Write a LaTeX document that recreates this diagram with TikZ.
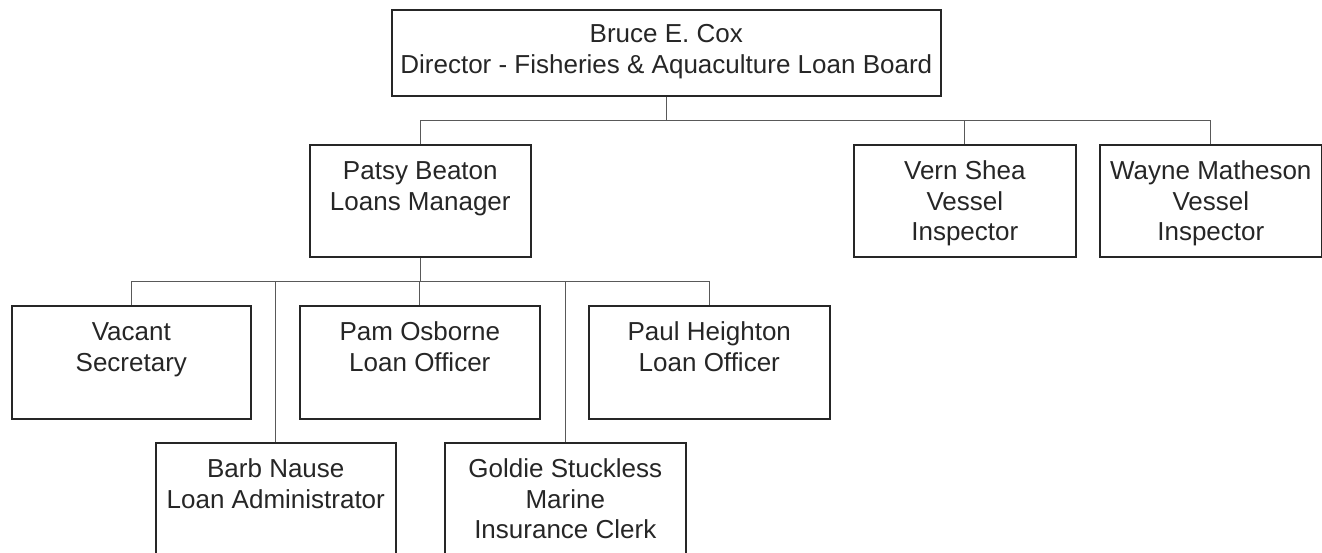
\documentclass[tikz,border=0pt]{standalone}
\usepackage{fontspec}
\setmainfont{Liberation Sans}
\usetikzlibrary{calc}
\def\post#1#2#3{\parbox[c][#2][t]{#1}{\centering\rule{0pt}{17.5pt}#3}}
\tikzset{
	role/.style={draw=black!85, line width=0.8pt, inner sep=0pt, anchor=north west, text=black!85},
	link/.style={draw=black!65, line width=0.5pt}
}

\begin{document}
\begin{tikzpicture}[x=0.5pt, y=-0.5pt, font=\fontsize{13pt}{15.25pt}\selectfont]
			%%%%% START %%%%%
			\useasboundingbox (0, 0) rectangle (1322, 552);
			
			\node[role] (cox) at (391, 9) {\parbox[c][43pt][t]{274.5pt}{\centering\rule{0pt}{16.5pt}Bruce E. Cox\\Director - Fisheries \& Aquaculture Loan Board}};
			
			\node[role] (patsy) at (309, 144) {\post{110.5pt}{56pt}{Patsy Beaton\\Loans Manager}};
			\node[role] (vern) at (853, 144) {\post{111pt}{56pt}{Vern Shea\\Vessel\\Inspector}};
			\node[role] (wayne) at (1099, 144) {\post{111pt}{56pt}{Wayne Matheson\\Vessel\\Inspector}};
			
			\node[role] (vacant) at (11, 305) {\post{119.5pt}{56.5pt}{Vacant\\Secretary}};
			\node[role] (pam) at (299, 305) {\post{120pt}{56.5pt}{Pam Osborne\\Loan Officer}};
			\node[role] (paul) at (588, 305) {\post{120.5pt}{56.5pt}{Paul Heighton\\Loan Officer}};
			
			\node[role] (barb) at (155, 442) {\post{120pt}{56.5pt}{Barb Nause\\Loan Administrator}};
			\node[role] (goldie) at (444, 442) {\post{120.5pt}{56.5pt}{Goldie Stuckless\\Marine\\Insurance Clerk}};
			
			\coordinate (tier1) at (0, 120);
			\coordinate (tier2) at (0, 281);
			
			\draw[link] (cox.south) -- (cox.south |- tier1);
			\draw[link] (patsy.north) |- (wayne.north |- tier1) -- (wayne.north);
			\draw[link] (vern.north) -- (vern.north |- tier1);
			
			\draw[link] (patsy.south) -- (patsy.south |- tier2);
			\draw[link] (vacant.north) |- (paul.north |- tier2) -- (paul.north);
			\draw[link] (pam.north) -- (pam.north |- tier2);
			\draw[link] (barb.north) -- (barb.north |- tier2);
			\draw[link] (goldie.north) -- (goldie.north |- tier2);
			
			%%%%% END %%%%%
\end{tikzpicture}
\end{document}
